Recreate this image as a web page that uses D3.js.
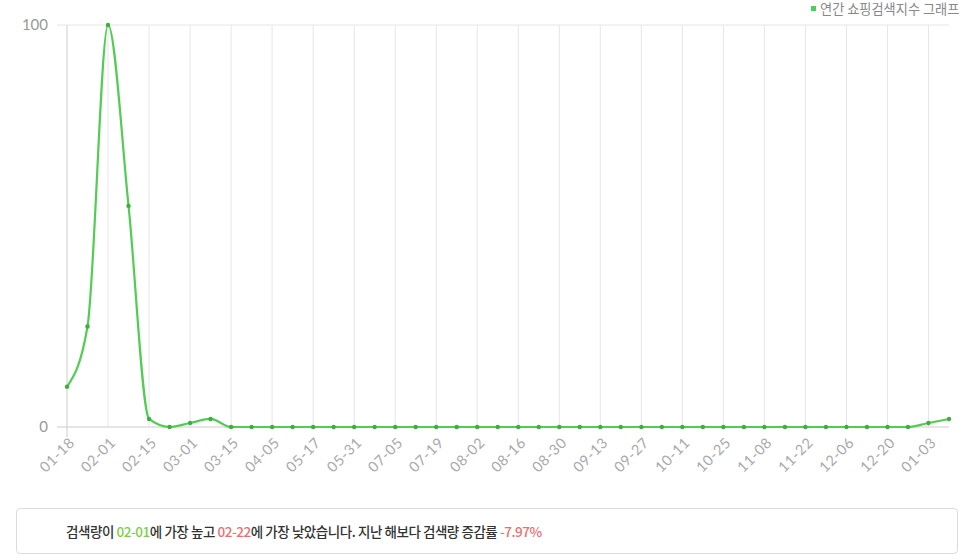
<!DOCTYPE html>
<html><head><meta charset="utf-8">
<script src="https://cdn.jsdelivr.net/npm/d3@7"></script>
<style>
html,body{margin:0;padding:0;background:#fff;}
body{width:966px;height:560px;position:relative;overflow:hidden;font-family:Lato,"Noto Sans CJK KR",sans-serif;}
#box{position:absolute;left:16px;top:508px;width:942px;height:46px;border:1px solid #dcdcdc;border-radius:4px;box-sizing:border-box;}
#box div{position:absolute;left:49px;top:12px;font-size:13.5px;color:#333;font-family:"Noto Sans CJK KR",sans-serif;letter-spacing:-0.45px;font-weight:500;}
.g{color:#7fcd48}.r{color:#ea7070}
</style></head>
<body>
<svg id="c" width="966" height="505"></svg>
<div id="box"><div>검색량이 <span class="g">02-01</span>에 가장 높고 <span class="r">02-22</span>에 가장 낮았습니다. 지난 해보다 검색량 증감률 <span class="r">-7.97%</span></div></div>
<script>
const categories = ["01-18","01-25","02-01","02-08","02-15","02-22","03-01","03-08","03-15","03-22",
 "04-05","04-19","05-17","05-24","05-31","06-14","07-05","07-12","07-19","07-26",
 "08-02","08-09","08-16","08-23","08-30","09-06","09-13","09-20","09-27","10-04",
 "10-11","10-18","10-25","11-01","11-08","11-15","11-22","11-29","12-06","12-13",
 "12-20","12-27","01-03","01-10"];
const values = [10,25,100,55,2,0,1,2,0,0,
 0,0,0,0,0,0,0,0,0,0,
 0,0,0,0,0,0,0,0,0,0,
 0,0,0,0,0,0,0,0,0,0,
 0,0,1,2];
const yTicks = [0,100];
const seriesName = "연간 쇼핑검색지수 그래프";

const svg = d3.select("#c");
const green = "#52cc52";
const x = d3.scalePoint().domain(categories).range([67,949]);
const y = d3.scaleLinear().domain([0,100]).range([427,25]);

const labelled = categories.filter((d,i)=>i%2===0);
svg.append("g").selectAll("line").data(labelled.slice(1)).join("line")
  .attr("x1",d=>x(d)).attr("x2",d=>x(d)).attr("y1",y(100)).attr("y2",y(0))
  .attr("stroke","#e6e6e6").attr("stroke-width",1);
svg.append("line").attr("x1",57).attr("x2",949).attr("y1",y(100)).attr("y2",y(100))
  .attr("stroke","#e6e6e6");
svg.append("line").attr("x1",67).attr("x2",67).attr("y1",y(100)).attr("y2",y(0)+10)
  .attr("stroke","#cccccc");
svg.append("line").attr("x1",57).attr("x2",949).attr("y1",y(0)).attr("y2",y(0))
  .attr("stroke","#cccccc");

svg.append("g").selectAll("text").data(yTicks).join("text")
  .attr("x",48).attr("y",d=>y(d)).attr("dy","0.35em").attr("text-anchor","end")
  .attr("fill","#999").attr("font-size",15).attr("font-family","Lato,sans-serif").text(d=>d);

svg.append("g").selectAll("text").data(labelled).join("text")
  .attr("transform",d=>`translate(${x(d)+5},${y(0)+13}) rotate(-45)`)
  .attr("text-anchor","end").attr("dy","0.35em").attr("letter-spacing","0.6px")
  .attr("fill","#aaa").attr("font-size",14.5).attr("font-family","Lato,sans-serif").text(d=>d);

const line = d3.line().x((d,i)=>x(categories[i])).y(d=>y(d)).curve(d3.curveMonotoneX);
svg.append("path").datum(values).attr("d",line).attr("fill","none")
  .attr("stroke",green).attr("stroke-width",2.2);
svg.append("g").selectAll("circle").data(values).join("circle")
  .attr("cx",(d,i)=>x(categories[i])).attr("cy",d=>y(d)).attr("r",2.2).attr("fill","#3fae3f");

svg.append("rect").attr("x",811).attr("y",6).attr("width",5).attr("height",5).attr("fill",green);
svg.append("text").attr("x",820).attr("y",9).attr("dy","0.35em").attr("fill","#888")
  .attr("font-size",13.2).attr("font-family","'Noto Sans CJK KR',sans-serif").text(seriesName);
</script>
</body></html>
